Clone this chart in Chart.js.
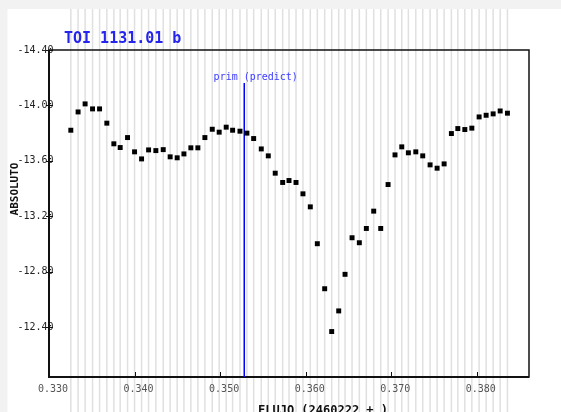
<!DOCTYPE html>
<html><head><meta charset="utf-8">
<script src="https://cdn.jsdelivr.net/npm/chart.js@4.4.0/dist/chart.umd.min.js"></script>
<style>html,body{margin:0;padding:0;background:#fff;overflow:hidden}canvas{display:block}</style>
</head><body>
<canvas id="c" width="561" height="412"></canvas>
<script>
const chartTitle = 'TOI 1131.01 b';
const xAxisTitle = 'FLUJO (2460222 + )';
const yAxisTitle = 'ABSOLUTO';
const predictLabel = 'prim (predict)';
const predictTime = 0.35282;

const times = [
  0.33255, 0.33340, 0.33422, 0.33509, 0.33591, 0.33676, 0.33758, 0.33832, 0.33918, 0.34000,
  0.34082, 0.34164, 0.34249, 0.34335, 0.34416, 0.34498, 0.34577, 0.34658, 0.34740, 0.34822,
  0.34908, 0.34989, 0.35071, 0.35146, 0.35232, 0.35313, 0.35392, 0.35481, 0.35563, 0.35644,
  0.35731, 0.35805, 0.35887, 0.35968, 0.36054, 0.36136, 0.36222, 0.36304, 0.36386, 0.36460,
  0.36542, 0.36627, 0.36709, 0.36795, 0.36877, 0.36963, 0.37044, 0.37123, 0.37200, 0.37287,
  0.37368, 0.37454, 0.37536, 0.37618, 0.37703, 0.37778, 0.37860, 0.37942, 0.38027, 0.38109,
  0.38191, 0.38273, 0.38358
];
const magnitudes = [
  -13.821, -13.953, -14.011, -13.975, -13.975, -13.872, -13.723, -13.696, -13.768, -13.665,
  -13.614, -13.679, -13.674, -13.681, -13.629, -13.622, -13.650, -13.694, -13.694, -13.768,
  -13.828, -13.807, -13.843, -13.821, -13.814, -13.800, -13.761, -13.686, -13.636, -13.511,
  -13.444, -13.458, -13.444, -13.362, -13.268, -13.002, -12.677, -12.368, -12.517, -12.781,
  -13.045, -13.009, -13.112, -13.237, -13.112, -13.429, -13.643, -13.701, -13.658, -13.665,
  -13.636, -13.571, -13.547, -13.578, -13.797, -13.833, -13.826, -13.836, -13.917, -13.929,
  -13.939, -13.960, -13.944
];
const xTicks = [0.330, 0.340, 0.350, 0.360, 0.370, 0.380];
const yTicks = [-14.40, -14.00, -13.60, -13.20, -12.80, -12.40];
const xMin = 0.330, xMax = 0.3861;
const yMin = -14.40, yMax = -12.04;

const MONO = '"DejaVu Sans Mono", monospace';

const deco = {
  id: 'deco',
  beforeDraw(chart) {
    const ctx = chart.ctx, W = chart.width, H = chart.height;
    ctx.save();
    ctx.fillStyle = '#f2f2f2';
    ctx.fillRect(0, 0, W, H);
    ctx.fillStyle = '#ffffff';
    ctx.fillRect(7.5, 9, W, H);
    const xs = chart.scales.x;
    ctx.strokeStyle = '#e0e0e0';
    ctx.lineWidth = 1.5;
    times.forEach(t => {
      const px = xs.getPixelForValue(t);
      ctx.beginPath(); ctx.moveTo(px, 9); ctx.lineTo(px, H); ctx.stroke();
    });
    ctx.restore();
  },
  beforeDatasetsDraw(chart) {
    const ctx = chart.ctx, a = chart.chartArea, x = chart.scales.x, y = chart.scales.y;
    ctx.save();
    // y tick labels (drawn here so they may overlap the axis as in the original)
    ctx.fillStyle = '#222';
    ctx.font = '10px ' + MONO;
    ctx.textAlign = 'right'; ctx.textBaseline = 'middle';
    y.ticks.forEach(t => {
      ctx.fillText(Number(t.value).toFixed(2), a.left + 4.5, y.getPixelForValue(t.value));
    });
    ctx.strokeStyle = '#111';
    ctx.lineWidth = 1.5;
    ctx.strokeRect(a.left, a.top, a.right - a.left, a.bottom - a.top);
    ctx.lineWidth = 2;
    ctx.beginPath(); ctx.moveTo(a.left, a.top); ctx.lineTo(a.left, a.bottom); ctx.lineTo(a.right, a.bottom); ctx.stroke();
    ctx.lineWidth = 1;
    xTicks.forEach(v => {
      const px = Math.round(x.getPixelForValue(v)) + 0.5;
      ctx.beginPath(); ctx.moveTo(px, a.bottom); ctx.lineTo(px, a.bottom - 5); ctx.stroke();
    });
    yTicks.forEach(v => {
      const py = Math.round(y.getPixelForValue(v)) + 0.5;
      ctx.beginPath(); ctx.moveTo(a.left - 3, py); ctx.lineTo(a.left + 4, py); ctx.stroke();
    });
    const px = x.getPixelForValue(predictTime);
    ctx.strokeStyle = '#0000ff';
    ctx.lineWidth = 1.5;
    ctx.beginPath(); ctx.moveTo(px, 83); ctx.lineTo(px, a.bottom); ctx.stroke();
    ctx.fillStyle = '#3b3bff';
    ctx.font = '10px ' + MONO;
    ctx.textAlign = 'center'; ctx.textBaseline = 'middle';
    ctx.fillText(predictLabel, px + 11.5, 77.5);
    ctx.fillStyle = '#2424ee';
    ctx.font = 'bold 15px ' + MONO;
    ctx.textAlign = 'left'; ctx.textBaseline = 'alphabetic';
    ctx.fillText(chartTitle, 64, 43);
    ctx.fillStyle = '#111';
    ctx.font = 'bold 11px ' + MONO;
    ctx.save();
    ctx.translate(15, 189);
    ctx.rotate(-Math.PI / 2);
    ctx.textAlign = 'center'; ctx.textBaseline = 'middle';
    ctx.fillText(yAxisTitle, 0, 0);
    ctx.restore();
    ctx.font = 'bold 12px ' + MONO;
    ctx.textAlign = 'left'; ctx.textBaseline = 'top';
    ctx.fillText(xAxisTitle, 258, 405);
    ctx.restore();
  }
};

new Chart(document.getElementById('c'), {
  type: 'scatter',
  data: {
    datasets: [{
      data: times.map((t, i) => ({ x: t, y: magnitudes[i] })),
      pointStyle: 'rect',
      pointRadius: 3.5,
      pointHoverRadius: 3.5,
      backgroundColor: '#000',
      borderColor: '#000',
      borderWidth: 0
    }]
  },
  options: {
    responsive: false,
    animation: false,
    devicePixelRatio: 1,
    layout: { padding: { left: 0, top: 50, right: 32, bottom: 0 } },
    plugins: { legend: { display: false }, tooltip: { enabled: false }, title: { display: false } },
    scales: {
      x: {
        type: 'linear', min: xMin, max: xMax,
        grid: { display: false, drawTicks: false },
        border: { display: false },
        afterFit(s) { s.height = 35; },
        afterBuildTicks(s) { s.ticks = xTicks.map(v => ({ value: v })); },
        ticks: {
          padding: 6, labelOffset: 4, color: '#555', maxRotation: 0, autoSkip: false,
          font: { family: 'DejaVu Sans Mono', size: 10 },
          callback: v => Number(v).toFixed(3)
        }
      },
      y: {
        type: 'linear', reverse: true, min: yMin, max: yMax,
        grid: { display: false, drawTicks: false },
        border: { display: false },
        afterFit(s) { s.width = 49; },
        afterBuildTicks(s) { s.ticks = yTicks.map(v => ({ value: v })); },
        ticks: {
          display: false, autoSkip: false,
          font: { family: 'DejaVu Sans Mono', size: 10 },
          callback: v => Number(v).toFixed(2)
        }
      }
    }
  },
  plugins: [deco]
});
</script>
</body></html>
